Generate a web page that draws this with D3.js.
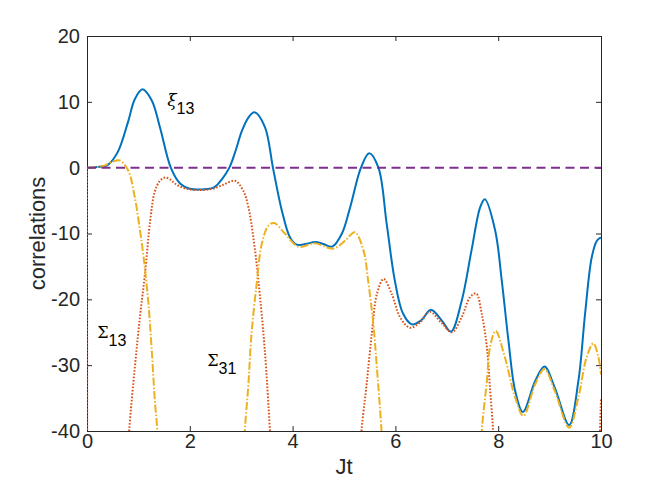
<!DOCTYPE html>
<html>
<head>
<meta charset="utf-8">
<script src="https://cdn.jsdelivr.net/npm/d3@7"></script>
<style>
  html, body { margin: 0; padding: 0; background: #fff; }
  svg { display: block; }
</style>
</head>
<body>
<div id="chart"></div>
<script>
// ---------- data ----------
const xiX = [0,0.2,0.4,0.6,0.8,0.93,1.08,1.26,1.42,1.63,1.81,2.0,2.25,2.47,2.63,2.77,2.9,3.01,3.14,3.26,3.46,3.62,3.79,3.95,4.08,4.25,4.44,4.6,4.77,4.96,5.12,5.33,5.49,5.67,5.83,5.99,6.15,6.32,6.5,6.69,6.9,7.08,7.29,7.48,7.65,7.74,7.94,8.07,8.2,8.33,8.48,8.72,8.9,9.1,9.38,9.56,9.69,9.82,9.92,10];
const xiY = [0,0.1,0.4,2.4,7.0,10.4,11.9,10.2,6.1,0,-2.4,-3.2,-3.3,-3.0,-1.7,0,2.8,5.5,7.6,8.4,6.2,-0.1,-6.5,-10.6,-11.7,-11.6,-11.3,-11.6,-12.0,-10.0,-6.0,0,2.2,0,-8.5,-17.2,-22.2,-23.8,-23.2,-21.6,-23.2,-24.9,-20.2,-12.6,-6.0,-4.8,-9.5,-17.2,-26.3,-33.9,-37.1,-32.4,-30.2,-33.4,-39.1,-32.4,-22.2,-13.6,-11.1,-10.6];

// Sigma_13 (null = gap, curve far below the axis)
const s13X = [0,0.004,null,0.79,0.82,0.93,1.03,1.13,1.23,1.32,1.42,1.52,1.62,1.71,1.85,2.0,2.25,2.45,2.65,2.88,3.04,3.14,3.24,3.33,3.46,3.56,3.6,null,5.31,5.34,5.44,5.54,5.64,5.77,5.93,6.09,6.28,6.48,6.67,6.9,7.1,7.29,7.45,7.57,7.68,7.78,7.84,7.9,7.92,null,9.96,9.98,10];
const s13Y = [0,-45,null,-45,-40,-30.4,-22.7,-16,-8.0,-3.6,-2.0,-1.5,-1.8,-2.4,-3.0,-3.3,-3.4,-3.2,-2.6,-2.0,-3.5,-6.0,-10.8,-16.8,-27.8,-40,-45,null,-45,-40,-32.9,-25.3,-19.2,-16.9,-19.2,-22.7,-24.3,-23.5,-21.9,-23.6,-25.0,-22.7,-19.7,-19.1,-22.2,-27.3,-33.4,-40,-45,null,-45,-40,-35];

// Sigma_31
const s31X = [0,0.16,0.35,0.51,0.64,0.8,0.93,1.03,1.1,1.19,1.26,1.32,1.37,1.4,null,3.04,3.07,3.14,3.2,3.3,3.4,3.53,3.64,3.85,4.11,4.44,4.79,5.02,5.21,5.38,5.47,5.57,5.64,5.73,5.76,null,7.66,7.68,7.78,7.84,7.95,8.13,8.33,8.49,8.72,8.9,9.1,9.38,9.56,9.72,9.85,9.95,10];
const s31Y = [0,0.05,0.35,0.96,1.1,-0.4,-4.5,-9.5,-13.5,-20.2,-27.8,-35.4,-40,-45,null,-45,-40,-32.9,-25.3,-17.7,-11.6,-8.8,-8.4,-10.0,-12.0,-11.5,-12.3,-11.1,-9.8,-12.6,-17.2,-23.7,-30.4,-40,-45,null,-45,-40,-32.4,-27.3,-24.8,-28.8,-34.9,-37.7,-32.9,-30.6,-33.9,-39.5,-34.9,-28.8,-26.7,-28.8,-31.4];

const zeroX = [0, 10];
const zeroY = [0, 0];

const xTicks = [0, 2, 4, 6, 8, 10];
const yTicks = [-40, -30, -20, -10, 0, 10, 20];

// ---------- layout ----------
const W = 664, H = 485;
const m = { left: 87, top: 36, right: 664 - 601, bottom: 485 - 431 };
const iw = W - m.left - m.right, ih = H - m.top - m.bottom;

const svg = d3.select("#chart").append("svg").attr("width", W).attr("height", H);
const g = svg.append("g").attr("transform", `translate(${m.left},${m.top})`);

const x = d3.scaleLinear().domain([0, 10]).range([0, iw]);
const y = d3.scaleLinear().domain([-40, 20]).range([ih, 0]);

svg.append("defs").append("clipPath").attr("id", "clip")
  .append("rect").attr("x", 0).attr("y", 0).attr("width", iw).attr("height", ih);

const axCol = "#262626";
const tickFont = "Liberation Sans, Arial, Helvetica, sans-serif";

// axes with inward ticks on all four sides
const tl = 5;
g.append("g").attr("transform", `translate(0,${ih})`)
  .call(d3.axisBottom(x).tickValues(xTicks).tickSize(-tl).tickPadding(3).tickFormat(d3.format("d")));
g.append("g")
  .call(d3.axisTop(x).tickValues(xTicks).tickSize(-tl).tickFormat(""));
g.append("g")
  .call(d3.axisLeft(y).tickValues(yTicks).tickSize(-tl).tickPadding(7).tickFormat(d => d < 0 ? "-" + Math.abs(d) : d));
g.append("g").attr("transform", `translate(${iw},0)`)
  .call(d3.axisRight(y).tickValues(yTicks).tickSize(-tl).tickFormat(""));

g.selectAll(".domain").attr("stroke", axCol).attr("stroke-width", 1);
g.selectAll(".tick line").attr("stroke", axCol).attr("stroke-width", 1);
g.selectAll(".tick text").attr("fill", axCol).style("font-family", tickFont).style("font-size", "20px");

// lines
const plot = g.append("g").attr("clip-path", "url(#clip)");
function mk(xs, ys) {
  return xs.map((v, i) => [v, ys[i]]);
}
const line = d3.line()
  .defined(d => d[0] !== null && d[1] !== null)
  .x(d => x(d[0])).y(d => y(d[1]))
  .curve(d3.curveCatmullRom.alpha(0.5));

plot.append("path").datum(mk(xiX, xiY)).attr("d", line)
  .attr("fill", "none").attr("stroke", "#0072BD").attr("stroke-width", 2);
plot.append("path").datum(mk(s13X, s13Y)).attr("d", line)
  .attr("fill", "none").attr("stroke", "#D95319").attr("stroke-width", 2)
  .attr("stroke-dasharray", "1.6,1.7");
plot.append("path").datum(mk(s31X, s31Y)).attr("d", line)
  .attr("fill", "none").attr("stroke", "#EDB120").attr("stroke-width", 2)
  .attr("stroke-dasharray", "8,2,1.5,2");
plot.append("path").datum(mk(zeroX, zeroY)).attr("d", line)
  .attr("fill", "none").attr("stroke", "#7E2F8E").attr("stroke-width", 2)
  .attr("stroke-dasharray", "9,5.5");

// axis labels
svg.append("text").attr("x", m.left + iw / 2).attr("y", 474)
  .attr("text-anchor", "middle").attr("fill", axCol)
  .style("font-family", tickFont).style("font-size", "22px").text("Jt");
svg.append("text").attr("transform", `translate(45,${m.top + ih / 2}) rotate(-90)`)
  .attr("text-anchor", "middle").attr("fill", axCol)
  .style("font-family", tickFont).style("font-size", "22px").text("correlations");

// curve annotations
function annot(px, py, greek, gsize, italic, sub) {
  const t = g.append("text").attr("x", x(px)).attr("y", y(py)).attr("fill", "#000");
  t.append("tspan").style("font-family", "DejaVu Serif, Liberation Serif, serif")
    .style("font-style", italic ? "italic" : "normal")
    .style("font-size", gsize + "px").text(greek);
  t.append("tspan").attr("dy", 8).style("font-family", tickFont)
    .style("font-style", "normal")
    .style("font-size", "16px").text(sub);
}
annot(1.56, 9.4, "ξ", 17, true, "13");
annot(0.2, -25.8, "Σ", 16, false, "13");
annot(2.34, -30.1, "Σ", 16, false, "31");
</script>
</body>
</html>
